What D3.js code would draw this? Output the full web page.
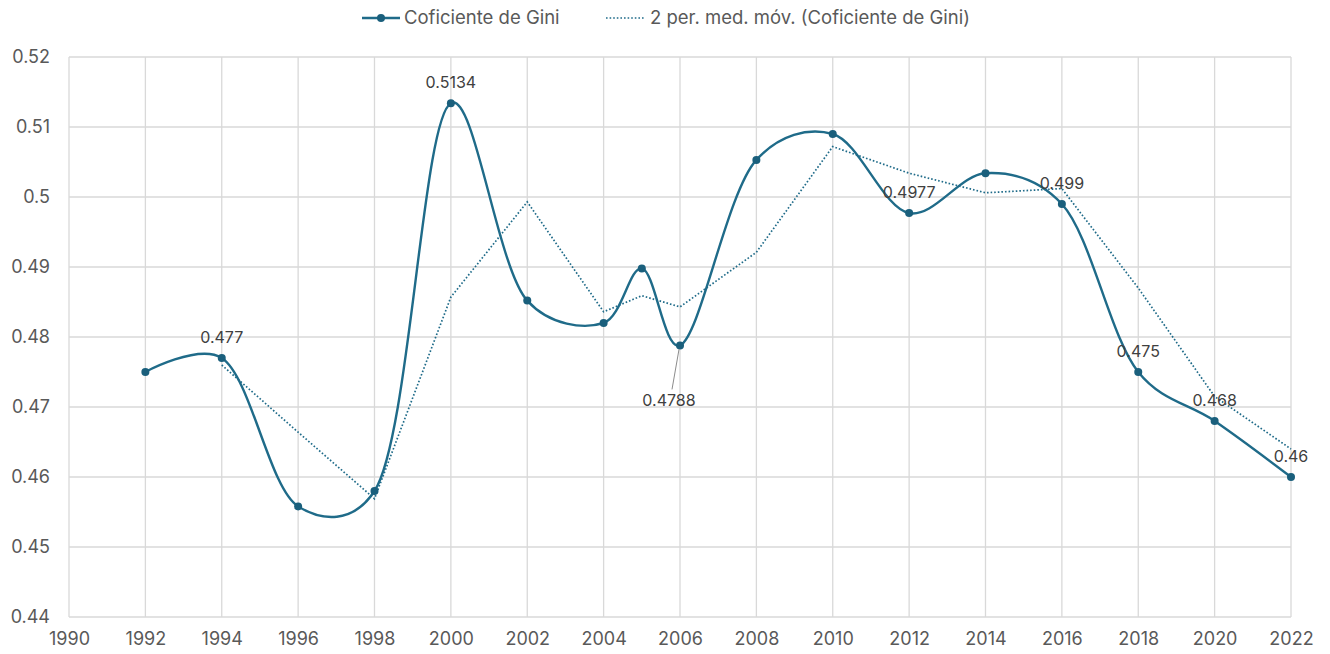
<!DOCTYPE html>
<html>
<head>
<meta charset="utf-8">
<script src="https://cdn.jsdelivr.net/npm/d3@7"></script>
<style>
  html, body { margin: 0; padding: 0; background: #ffffff; }
  svg { display: block; font-family: "Inter", "Open Sans", sans-serif; }
</style>
</head>
<body>
<svg id="chart" width="1330" height="654"></svg>
<script>
// Gini coefficient by year
const years = [1992, 1994, 1996, 1998, 2000, 2002, 2004, 2005, 2006, 2008, 2010, 2012, 2014, 2016, 2018, 2020, 2022];
const gini  = [0.475, 0.477, 0.4558, 0.458, 0.5134, 0.4852, 0.482, 0.4898, 0.4788, 0.5053, 0.509, 0.4977, 0.5034, 0.499, 0.475, 0.468, 0.46];

// 2-period moving average (starts at the second observation)
const maYears = [1994, 1996, 1998, 2000, 2002, 2004, 2005, 2006, 2008, 2010, 2012, 2014, 2016, 2018, 2020, 2022];
const maValues = [0.476, 0.4664, 0.4569, 0.4857, 0.4993, 0.4836, 0.4859, 0.4843, 0.4921, 0.5072, 0.5034, 0.5006, 0.5012, 0.487, 0.4715, 0.464];

// Data labels shown on selected points
const labelYears = [1994, 2000, 2006, 2012, 2016, 2018, 2020, 2022];
const labelTexts = ["0.477", "0.5134", "0.4788", "0.4977", "0.499", "0.475", "0.468", "0.46"];

const xTicks = [1990, 1992, 1994, 1996, 1998, 2000, 2002, 2004, 2006, 2008, 2010, 2012, 2014, 2016, 2018, 2020, 2022];
const yTicks = [0.44, 0.45, 0.46, 0.47, 0.48, 0.49, 0.50, 0.51, 0.52];
const yTickLabels = ["0.44", "0.45", "0.46", "0.47", "0.48", "0.49", "0.5", "0.51", "0.52"];

const seriesName = "Coficiente de Gini";
const trendName = "2 per. med. móv. (Coficiente de Gini)";

const lineColor = "#1f6b89";
const markColor = "#1a5f7c";
const textColor = "#595959";
const gridColor = "#d9d9d9";

const svg = d3.select("#chart");
const m = { left: 69, right: 1291, top: 57, bottom: 617 };

const x = d3.scaleLinear().domain([1990, 2022]).range([m.left, m.right]);
const y = d3.scaleLinear().domain([0.44, 0.52]).range([m.bottom, m.top]);

// Gridlines
const grid = svg.append("g");
grid.selectAll("line.h").data(yTicks).join("line")
  .attr("x1", m.left).attr("x2", m.right)
  .attr("y1", d => y(d)).attr("y2", d => y(d))
  .attr("stroke", gridColor).attr("stroke-width", 1.3);
grid.selectAll("line.v").data(xTicks).join("line")
  .attr("y1", m.top).attr("y2", m.bottom)
  .attr("x1", d => x(d)).attr("x2", d => x(d))
  .attr("stroke", gridColor).attr("stroke-width", 1.3);

// Axes (labels only)
const yAxis = d3.axisLeft(y).tickValues(yTicks).tickSize(0).tickPadding(19)
  .tickFormat((d, i) => yTickLabels[i]);
svg.append("g").attr("transform", `translate(${m.left},0)`).call(yAxis)
  .call(g => g.select(".domain").remove())
  .selectAll("text").attr("fill", textColor).style("font-size", "18px")
  .style("font-family", "Inter, 'Open Sans', sans-serif");

const xAxis = d3.axisBottom(x).tickValues(xTicks).tickSize(0).tickPadding(15)
  .tickFormat(d3.format("d"));
svg.append("g").attr("transform", `translate(0,${m.bottom})`).call(xAxis)
  .call(g => g.select(".domain").remove())
  .selectAll("text").attr("fill", textColor).style("font-size", "18px")
  .style("font-family", "Inter, 'Open Sans', sans-serif");

// Moving average trend (dotted)
const maData = maYears.map((yr, i) => ({ yr, v: maValues[i] }));
svg.append("path").datum(maData)
  .attr("fill", "none").attr("stroke", lineColor).attr("stroke-width", 1.7)
  .attr("stroke-dasharray", "1.6 2")
  .attr("d", d3.line().x(d => x(d.yr)).y(d => y(d.v)));

// Smoothed main series
const data = years.map((yr, i) => ({ yr, v: gini[i] }));
svg.append("path").datum(data)
  .attr("fill", "none").attr("stroke", lineColor).attr("stroke-width", 2.4)
  .attr("d", d3.line().curve(d3.curveCatmullRom.alpha(0.3)).x(d => x(d.yr)).y(d => y(d.v)));

svg.append("g").selectAll("circle").data(data).join("circle")
  .attr("cx", d => x(d.yr)).attr("cy", d => y(d.v)).attr("r", 4)
  .attr("fill", markColor);

// Data labels
const labels = labelYears.map((yr, i) => ({ yr, t: labelTexts[i], v: gini[years.indexOf(yr)] }));
const lab = svg.append("g").style("font-size", "16px").attr("fill", "#404040");
labels.forEach(d => {
  const px = x(d.yr), py = y(d.v);
  if (d.yr === 2006) {
    // label placed below with a leader line
    svg.append("line").attr("x1", px - 1).attr("y1", py + 4).attr("x2", px - 8).attr("y2", py + 44)
      .attr("stroke", "#8c8c8c").attr("stroke-width", 1);
    lab.append("text").attr("x", px - 11).attr("y", py + 55).attr("dy", "0.35em")
      .attr("text-anchor", "middle").text(d.t);
  } else {
    lab.append("text").attr("x", px).attr("y", py - 21).attr("dy", "0.35em")
      .attr("text-anchor", "middle").text(d.t);
  }
});

// Legend
const leg = svg.append("g").style("font-size", "18.5px").attr("fill", textColor);
leg.append("line").attr("x1", 362).attr("x2", 400).attr("y1", 18).attr("y2", 18)
  .attr("stroke", lineColor).attr("stroke-width", 2.4);
leg.append("circle").attr("cx", 381).attr("cy", 18).attr("r", 4).attr("fill", markColor);
leg.append("text").attr("x", 404).attr("y", 18).attr("dy", "0.35em").text(seriesName);
leg.append("line").attr("x1", 606).attr("x2", 645).attr("y1", 18).attr("y2", 18)
  .attr("stroke", lineColor).attr("stroke-width", 1.7).attr("stroke-dasharray", "1.6 2");
leg.append("text").attr("x", 650).attr("y", 18).attr("dy", "0.35em").text(trendName);
</script>
</body>
</html>
